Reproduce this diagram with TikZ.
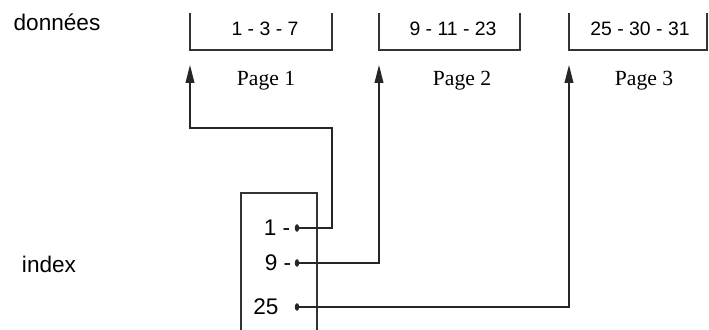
\documentclass[tikz,border=0pt]{standalone}
\usepackage{fontspec}
\setmainfont{Liberation Sans}
\newfontfamily\pagefont{Liberation Serif}
\usetikzlibrary{arrows.meta}

\begin{document}
\begin{tikzpicture}[x=0.5pt, y=-0.5pt,
   every node/.style={inner sep=0pt, font=\fontsize{11.3}{13}\selectfont},
   cell/.style={font=\fontsize{9.7}{11}\selectfont},
   pagelabel/.style={font=\pagefont\fontsize{10.8}{13}\selectfont},
   tray/.style={draw=black!80, line width=0.65pt},
   link/.style={draw=black!85, line width=0.65pt, -{Triangle[length=9pt,width=4.4pt]}},
   pin/.style={fill=black!85}]

\useasboundingbox (0,0) rectangle (709,330);

% les trois pages de donnees
\draw[tray] (190,13) |- (332,50) -- (332,13);
\draw[tray] (379,13) |- (520,50) -- (520,13);
\draw[tray] (569,13) |- (707,50) -- (707,13);
\node[cell] (page1) at (265,29) {1 - 3 - 7};
\node[cell] (page2) at (453,29) {9 - 11 - 23};
\node[cell] (page3) at (640,29) {25 - 30 - 31};
\node[pagelabel] (lab1) at (266,81) {Page 1};
\node[pagelabel] (lab2) at (462,81) {Page 2};
\node[pagelabel] (lab3) at (644,81) {Page 3};

\node (donnees) at (57,22) {données};
\node (index) at (49,264) {index};

% l'index
\draw[tray] (241,330) |- (317,193) -- (317,330);
\node (k1) at (277,228) {1 -};
\node (k2) at (278,263) {9 -};
\node (k3) at (266,307) {25};

\coordinate (t1) at (190,65);
\coordinate (t2) at (379,65);
\coordinate (t3) at (569,65);
\coordinate (b1) at (332,128);
\coordinate (d1) at (297,228);
\coordinate (d2) at (297,263);
\coordinate (d3) at (297,307);

\draw[link] (d1) -| (b1) -| (t1);
\draw[link] (d2) -| (t2);
\draw[link] (d3) -| (t3);
\fill[pin] (d1) ellipse (2.2 and 3.8);
\fill[pin] (d2) ellipse (2.2 and 3.8);
\fill[pin] (d3) ellipse (2.2 and 3.8);

\end{tikzpicture}
\end{document}
